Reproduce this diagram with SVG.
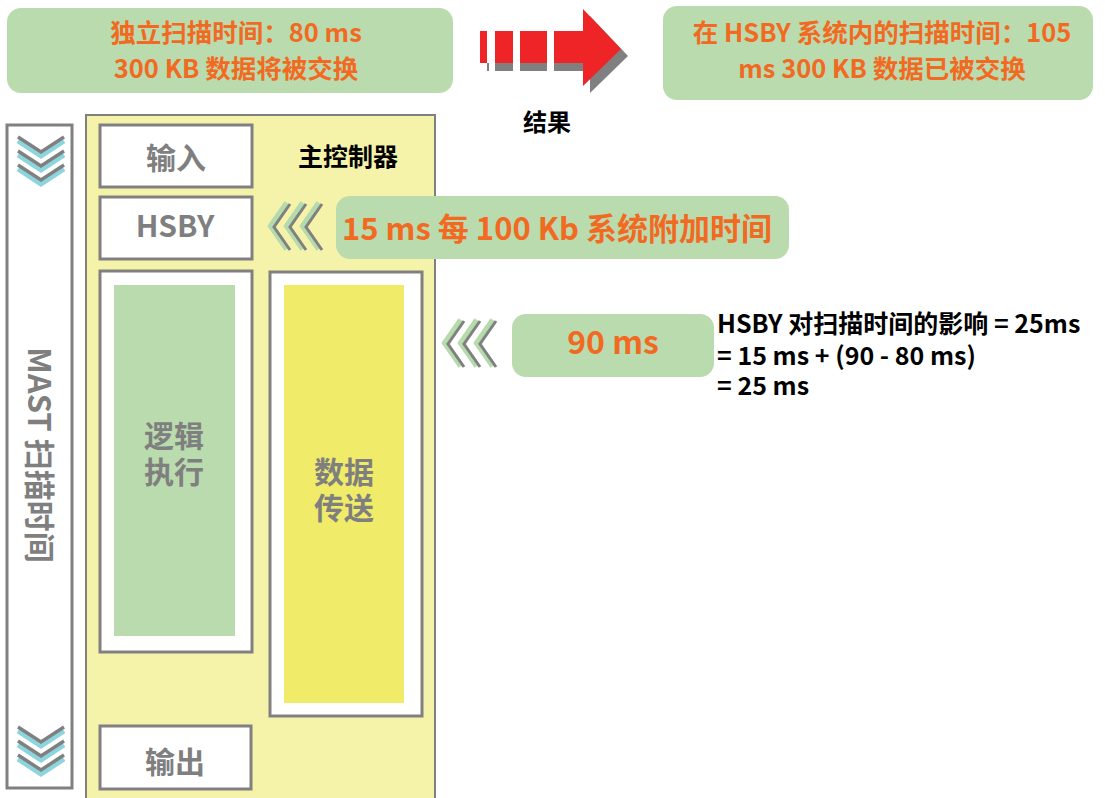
<svg xmlns="http://www.w3.org/2000/svg" width="1105" height="798" viewBox="0 0 1105 798">
<defs>
<style>
text{font-family:"Noto Sans CJK SC","Liberation Sans",sans-serif;font-weight:bold}
.or{fill:#f26a22}
.gy{fill:#7f7f7f}
.bk{fill:#000}
.gbox{fill:#b9dbae}
.wbox{fill:#fff;stroke:#808080;stroke-width:3}
.vg{fill:none;stroke:#808080;stroke-width:3.5}
.vc{fill:none;stroke:#8dd5de;stroke-width:5}
.lg{fill:none;stroke:#b5dbac;stroke-width:6}
.lgy{fill:none;stroke:#808080;stroke-width:3}
</style>
<g id="chevdown">
<polyline class="vc" points="18,4 41,19 64,4"/>
<polyline class="vg" points="18,0 41,15 64,0"/>
<polyline class="vc" points="18,18 41,33 64,18"/>
<polyline class="vg" points="18,14 41,29 64,14"/>
<polyline class="vc" points="18,32 41,47 64,32"/>
<polyline class="vg" points="18,28 41,43 64,28"/>
</g>
<g id="chevleft">
<polyline class="lg" points="17,0 1,23 17,46"/>
<polyline class="lgy" points="20,1 4,24 20,47"/>
<polyline class="lg" points="33,0 17,23 33,46"/>
<polyline class="lgy" points="36,1 20,24 36,47"/>
<polyline class="lg" points="49,0 33,23 49,46"/>
<polyline class="lgy" points="52,1 36,24 52,47"/>
</g>
</defs>
<rect width="1105" height="798" fill="#fff"/>

<g id="standalone">
<rect class="gbox" x="7" y="8" width="446" height="85" rx="14"/>
<text class="or" font-size="25.5" text-anchor="middle"><tspan x="236" y="42">独立扫描时间：80 ms</tspan><tspan x="236" y="78">300 KB 数据将被交换</tspan></text>
</g>

<g id="result-arrow">
<rect x="487" y="63" width="2" height="8" fill="#808080"/>
<rect x="495" y="63" width="18" height="8" fill="#808080"/>
<rect x="520" y="63" width="27" height="8" fill="#808080"/>
<rect x="554" y="63" width="36" height="8" fill="#808080"/>
<polygon points="590,16 628,56 590,93" fill="#808080"/>
<rect x="480" y="31" width="7" height="32" fill="#ee2427"/>
<rect x="495" y="31" width="18" height="32" fill="#ee2427"/>
<rect x="520" y="31" width="27" height="32" fill="#ee2427"/>
<polygon points="554,31 583,31 583,9 621,49 583,86 583,63 554,63" fill="#ee2427"/>
<text class="bk" x="547" y="131" font-size="24" text-anchor="middle">结果</text>
</g>

<g id="hsby-result">
<rect class="gbox" x="663" y="6" width="430" height="94" rx="14"/>
<text class="or" font-size="25.5" text-anchor="middle"><tspan x="882" y="42">在 HSBY 系统内的扫描时间：105</tspan><tspan x="882" y="78">ms 300 KB 数据已被交换</tspan></text>
</g>

<g id="mast">
<rect class="wbox" x="7" y="125" width="65" height="663"/>
<use href="#chevdown" transform="translate(0,137)"/>
<use href="#chevdown" transform="translate(0,727)"/>
<text class="gy" font-size="31" text-anchor="middle" transform="translate(28,455) rotate(90)">MAST 扫描时间</text>
</g>

<g id="main-controller">
<rect x="86" y="115" width="349" height="690" fill="#f5f2aa" stroke="#808080" stroke-width="2"/>
<text class="bk" x="348" y="166" font-size="25" text-anchor="middle">主控制器</text>
</g>

<g id="input">
<rect class="wbox" x="100" y="125" width="152" height="62"/>
<text class="gy" x="176" y="169" font-size="30" text-anchor="middle">输入</text>
</g>

<g id="hsby">
<rect class="wbox" x="100" y="197" width="152" height="62"/>
<text class="gy" x="175" y="237" font-size="30" text-anchor="middle">HSBY</text>
</g>

<g id="logic">
<rect class="wbox" x="100" y="271" width="152" height="381"/>
<rect x="114" y="285" width="121" height="351" fill="#b9dbae"/>
<text class="gy" font-size="30" text-anchor="middle"><tspan x="174" y="447">逻辑</tspan><tspan x="174" y="483">执行</tspan></text>
</g>

<g id="data">
<rect class="wbox" x="270" y="272" width="152" height="444"/>
<rect x="284" y="285" width="120" height="418" fill="#f0eb68"/>
<text class="gy" font-size="30" text-anchor="middle"><tspan x="344" y="483">数据</tspan><tspan x="344" y="519">传送</tspan></text>
</g>

<g id="output">
<rect class="wbox" x="100" y="726" width="151" height="63"/>
<text class="gy" x="175" y="773" font-size="30" text-anchor="middle">输出</text>
</g>

<g id="overhead">
<use href="#chevleft" transform="translate(270,203)"/>
<rect class="gbox" x="336" y="196" width="453" height="63" rx="14"/>
<text class="or" x="557" y="240" font-size="31" text-anchor="middle">15 ms 每 100 Kb 系统附加时间</text>
</g>

<g id="transfer-time">
<use href="#chevleft" transform="translate(444,320)"/>
<rect class="gbox" x="512" y="314" width="202" height="63" rx="14"/>
<text class="or" x="613" y="354" font-size="32" text-anchor="middle">90 ms</text>
</g>

<g id="impact">
<text class="bk" font-size="25"><tspan x="717" y="333">HSBY 对扫描时间的影响 = 25ms</tspan><tspan x="717" y="365">= 15 ms + (90 - 80 ms)</tspan><tspan x="717" y="395">= 25 ms</tspan></text>
</g>
</svg>
